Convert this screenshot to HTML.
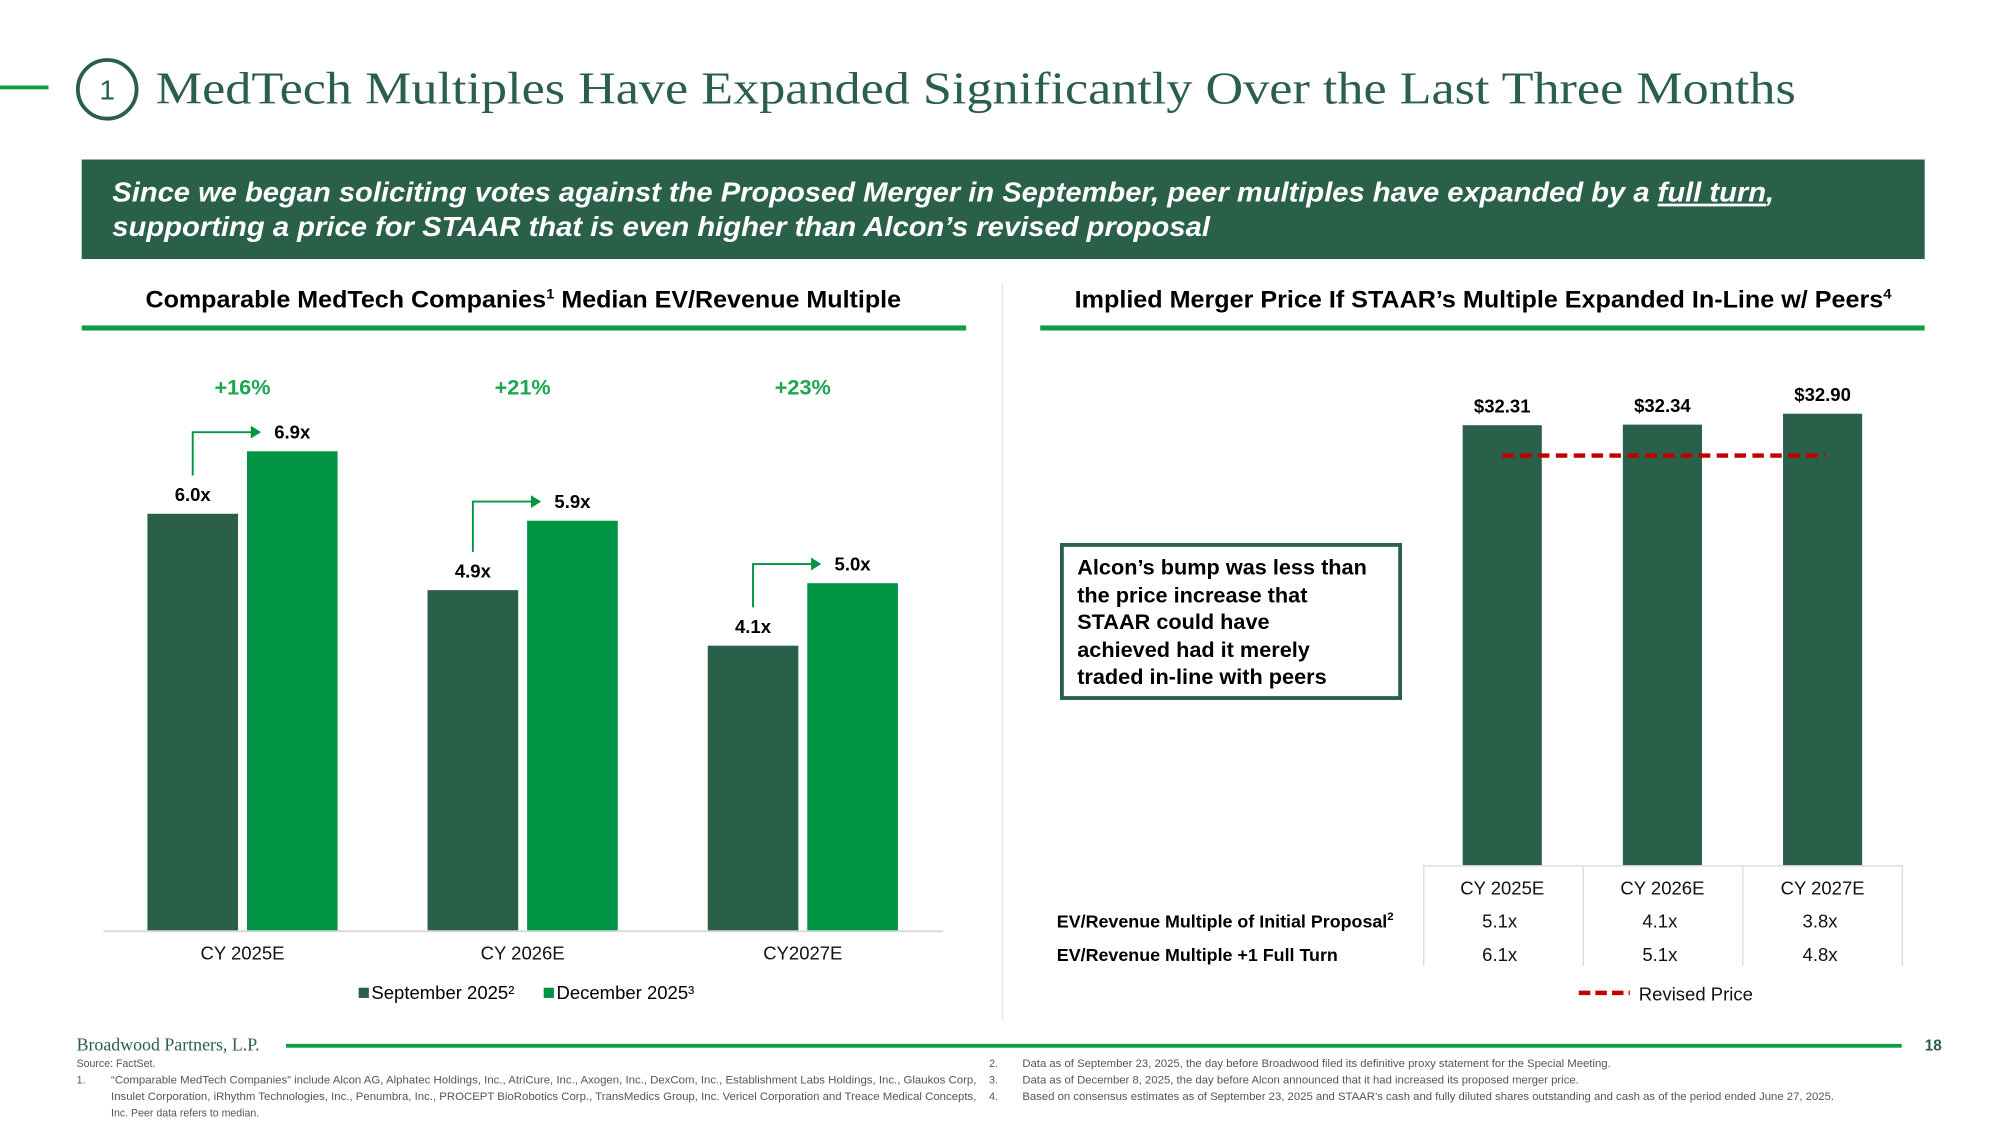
<!DOCTYPE html>
<html><head><meta charset="utf-8">
<style>
html,body{margin:0;padding:0;background:#fff;}
svg{display:block;font-family:"Liberation Sans",Arial,sans-serif;}
.serif{font-family:"Liberation Serif","DejaVu Serif",serif;}
</style></head>
<body>
<svg id="slide" width="2000" height="1123" viewBox="0 0 1567 880" preserveAspectRatio="none" xmlns="http://www.w3.org/2000/svg">
<rect x="0" y="0" width="1567" height="880" fill="#fff"/>
<!-- Title -->
<rect x="0" y="67" width="38" height="3" fill="#0f9d48"/>
<circle cx="84" cy="70" r="23" fill="none" stroke="#2a6049" stroke-width="3"/>
<text x="84" y="78" text-anchor="middle" font-size="22" fill="#2a6049">1</text>
<text class="serif" x="122" y="81" font-size="36" fill="#2a6049" textLength="1285" lengthAdjust="spacingAndGlyphs">MedTech Multiples Have Expanded Significantly Over the Last Three Months</text>
<!-- Banner -->
<rect x="64" y="125" width="1444" height="78" fill="#2a6049"/>
<text x="88" y="158" font-size="21.5" font-weight="bold" font-style="italic" fill="#fff" textLength="1302" lengthAdjust="spacingAndGlyphs">Since we began soliciting votes against the Proposed Merger in September, peer multiples have expanded by a <tspan text-decoration="underline">full turn</tspan>,</text>
<text x="88" y="185" font-size="21.5" font-weight="bold" font-style="italic" fill="#fff" textLength="860" lengthAdjust="spacingAndGlyphs">supporting a price for STAAR that is even higher than Alcon’s revised proposal</text>
<!-- Section headers -->
<text x="114" y="241" font-size="18.5" font-weight="bold" fill="#000" textLength="592" lengthAdjust="spacingAndGlyphs">Comparable MedTech Companies<tspan font-size="11" dy="-7">1</tspan><tspan dy="7"> Median EV/Revenue Multiple</tspan></text>
<text x="842" y="241" font-size="18.5" font-weight="bold" fill="#000" textLength="640" lengthAdjust="spacingAndGlyphs">Implied Merger Price If STAAR’s Multiple Expanded In-Line w/ Peers<tspan font-size="11" dy="-7">4</tspan></text>
<rect x="64" y="255" width="693" height="4" fill="#0f9d48"/>
<rect x="815" y="255" width="693" height="4" fill="#0f9d48"/>
<rect x="785" y="222" width="1" height="578" fill="#e6e6e6"/>
<g id="left-chart"></g>
<g id="right-chart"></g>
<!-- Callout -->
<rect x="832" y="427" width="265" height="120" fill="#fff" stroke="#2a6049" stroke-width="3"/>
<g font-size="17" font-weight="bold" fill="#000">
<text x="844" y="450">Alcon’s bump was less than</text>
<text x="844" y="472">the price increase that</text>
<text x="844" y="493">STAAR could have</text>
<text x="844" y="515">achieved had it merely</text>
<text x="844" y="536">traded in-line with peers</text>
</g>
<!-- Footer -->
<text class="serif" x="60" y="823" font-size="14" fill="#2a6049">Broadwood Partners, L.P.</text>
<rect x="224" y="818" width="1266" height="3" fill="#0f9d48"/>
<text x="1508" y="823" font-size="12" font-weight="bold" fill="#2a6049">18</text>
<g font-size="8.3" fill="#555">
<text x="60" y="836">Source: FactSet.</text>
<text x="60" y="849">1.</text>
<text x="87" y="849" textLength="678" lengthAdjust="spacingAndGlyphs">“Comparable MedTech Companies” include Alcon AG, Alphatec Holdings, Inc., AtriCure, Inc., Axogen, Inc., DexCom, Inc., Establishment Labs Holdings, Inc., Glaukos Corp,</text>
<text x="87" y="862" textLength="678" lengthAdjust="spacingAndGlyphs">Insulet Corporation, iRhythm Technologies, Inc., Penumbra, Inc., PROCEPT BioRobotics Corp., TransMedics Group, Inc. Vericel Corporation and Treace Medical Concepts,</text>
<text x="87" y="875">Inc. Peer data refers to median.</text>
<text x="775" y="836">2.</text>
<text x="801" y="836" textLength="461" lengthAdjust="spacingAndGlyphs">Data as of September 23, 2025, the day before Broadwood filed its definitive proxy statement for the Special Meeting.</text>
<text x="775" y="849">3.</text>
<text x="801" y="849" textLength="436" lengthAdjust="spacingAndGlyphs">Data as of December 8, 2025, the day before Alcon announced that it had increased its proposed merger price.</text>
<text x="775" y="862">4.</text>
<text x="801" y="862" textLength="636" lengthAdjust="spacingAndGlyphs">Based on consensus estimates as of September 23, 2025 and STAAR’s cash and fully diluted shares outstanding and cash as of the period ended June 27, 2025.</text>
</g>
</svg>
<script>
const categories = ["CY 2025E", "CY 2026E", "CY2027E"];
const septValues = [6.0, 4.9, 4.1];
const decValues = [6.9, 5.9, 5.0];
const septLabels = ["6.0x", "4.9x", "4.1x"];
const decLabels = ["6.9x", "5.9x", "5.0x"];
const pctLabels = ["+16%", "+21%", "+23%"];

const priceCategories = ["CY 2025E", "CY 2026E", "CY 2027E"];
const impliedPrices = [32.31, 32.34, 32.90];
const priceLabels = ["$32.31", "$32.34", "$32.90"];
const revisedPrice = 30.75;
const initialMultiples = ["5.1x", "4.1x", "3.8x"];
const plusTurnMultiples = ["6.1x", "5.1x", "4.8x"];

const NS = "http://www.w3.org/2000/svg";
function mk(parent, tag, attrs, text) {
  const e = document.createElementNS(NS, tag);
  for (const k in attrs) e.setAttribute(k, attrs[k]);
  if (text !== undefined) e.textContent = text;
  parent.appendChild(e);
  return e;
}
const DARK = "#2a6049", BRIGHT = "#009444";

// Left chart
const L = document.getElementById("left-chart");
const lBase = 729, lK = 54.4;
const lY = v => lBase - v * lK;
const lX = i => 190 + i * 219.5;
const bw = 71, gap = 7;
let el;
el = mk(L, "rect", {x: 81, y: lBase, width: 658, height: 1.5, fill: "#d9d9d9"});


categories.forEach((c, i) => {
  const cx = lX(i);
  const sx = cx - gap / 2 - bw, dx = cx + gap / 2;
  el = mk(L, "rect", {x: sx, y: lY(septValues[i]), width: bw, height: septValues[i] * lK, fill: DARK});
  
  
  el = mk(L, "rect", {x: dx, y: lY(decValues[i]), width: bw, height: decValues[i] * lK, fill: BRIGHT});
  
  
  const sTop = lY(septValues[i]), dTop = lY(decValues[i]);
  el = mk(L, "text", {x: sx + bw / 2, y: sTop - 10, "text-anchor": "middle", "font-size": 14.5, "font-weight": "bold"}, septLabels[i]);
  
  
  el = mk(L, "text", {x: dx + bw / 2, y: dTop - 10, "text-anchor": "middle", "font-size": 14.5, "font-weight": "bold"}, decLabels[i]);
  
  
  const ay = dTop - 15, ax = sx + bw / 2, tip = dx + 11;
  el = mk(L, "path", {d: `M${ax},${sTop - 30} L${ax},${ay} L${tip - 7},${ay}`, fill: "none", stroke: BRIGHT, "stroke-width": 1.5});
  
  
  el = mk(L, "path", {d: `M${tip - 8},${ay - 5} L${tip},${ay} L${tip - 8},${ay + 5} Z`, fill: BRIGHT});
  
  
  el = mk(L, "text", {x: cx, y: 309, "text-anchor": "middle", "font-size": 17, "font-weight": "bold", fill: "#1aa64f"}, pctLabels[i]);
  
  
  el = mk(L, "text", {x: cx, y: 752, "text-anchor": "middle", "font-size": 14.5, fill: "#111"}, c);
  
  
});
el = mk(L, "rect", {x: 281, y: 774, width: 8, height: 8, fill: DARK});


el = mk(L, "text", {x: 291, y: 783, "font-size": 14.5}, "September 2025²");


el = mk(L, "rect", {x: 426, y: 774, width: 8, height: 8, fill: BRIGHT});


el = mk(L, "text", {x: 436, y: 783, "font-size": 14.5}, "December 2025³");



// Right chart
const R = document.getElementById("right-chart");
const rBase = 678, rMin = 9.7, rK = 15.25;
const rY = v => rBase - (v - rMin) * rK;
const rX = i => 1177 + i * 125.5;
const rbw = 62;
priceCategories.forEach((c, i) => {
  const cx = rX(i);
  el = mk(R, "rect", {x: cx - rbw / 2, y: rY(impliedPrices[i]), width: rbw, height: rBase - rY(impliedPrices[i]), fill: DARK});
  
  
  el = mk(R, "text", {x: cx, y: rY(impliedPrices[i]) - 10, "text-anchor": "middle", "font-size": 14.5, "font-weight": "bold"}, priceLabels[i]);
  
  
  el = mk(R, "text", {x: cx, y: 701, "text-anchor": "middle", "font-size": 14.5, fill: "#111"}, c);
  
  
  el = mk(R, "text", {x: cx - 2, y: 727, "text-anchor": "middle", "font-size": 14.5, fill: "#111"}, initialMultiples[i]);
  
  
  el = mk(R, "text", {x: cx - 2, y: 753, "text-anchor": "middle", "font-size": 14.5, fill: "#111"}, plusTurnMultiples[i]);
  
  
});
el = mk(R, "line", {x1: rX(0), x2: rX(2) + 2, y1: rY(revisedPrice), y2: rY(revisedPrice), stroke: "#c00000", "stroke-width": 3.5, "stroke-dasharray": "9 5"});


// table grid
el = mk(R, "rect", {x: 1115, y: 678, width: 375, height: 1, fill: "#d9d9d9"});


[1115, 1240, 1365, 1490].forEach(x => {
  el = mk(R, "rect", {x: x, y: 678, width: 1, height: 79, fill: "#d9d9d9"});
  
  
});
el = mk(R, "text", {x: 828, y: 727, "font-size": 14, "font-weight": "bold"}, "EV/Revenue Multiple of Initial Proposal");


mk(el, "tspan", {"font-size": 9, dy: -6}, "2");
el = mk(R, "text", {x: 828, y: 753, "font-size": 14, "font-weight": "bold"}, "EV/Revenue Multiple +1 Full Turn");


el = mk(R, "line", {x1: 1237, x2: 1277, y1: 778, y2: 778, stroke: "#c00000", "stroke-width": 3.5, "stroke-dasharray": "9 4"});


el = mk(R, "text", {x: 1284, y: 784, "font-size": 14.5, fill: "#111"}, "Revised Price");


</script>
</body></html>
